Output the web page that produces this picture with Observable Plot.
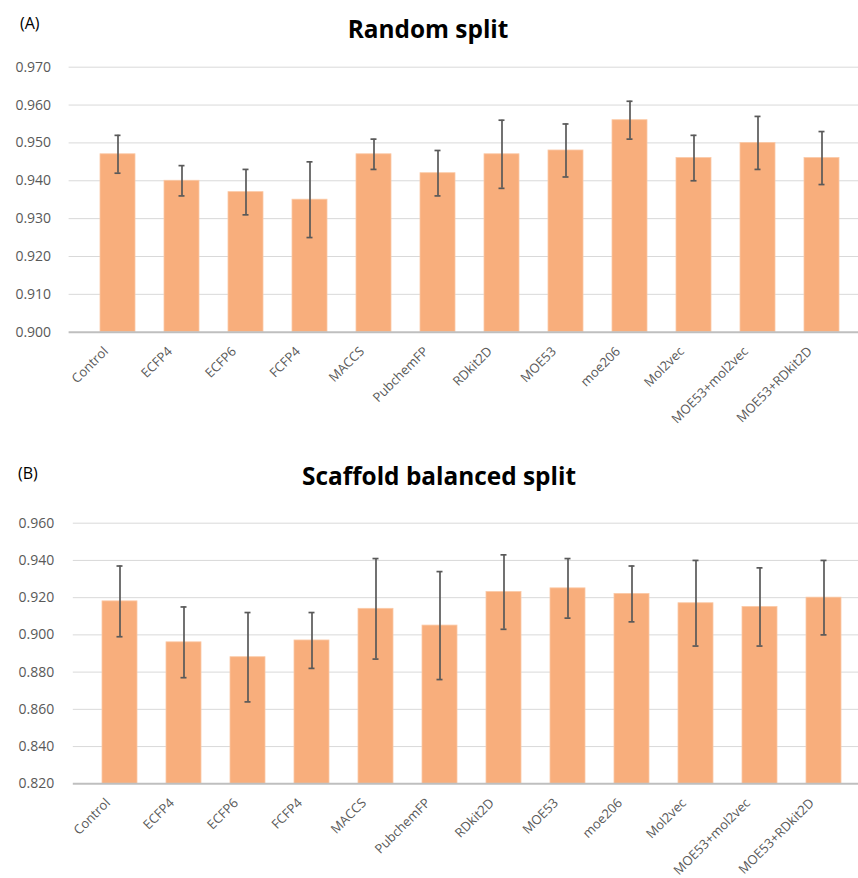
<!DOCTYPE html>
<html>
<head>
<meta charset="utf-8">
<script src="https://cdn.jsdelivr.net/npm/d3@7"></script>
<script src="https://cdn.jsdelivr.net/npm/@observablehq/plot@0.6"></script>
<style>
  html, body { margin: 0; padding: 0; background: #fff; }
  #root { position: relative; width: 858px; height: 878px; overflow: hidden; font-family: "Open Sans", sans-serif; }
  .panel { position: absolute; left: 0; }
  .tag { position: absolute; font-size: 16px; color: #000; line-height: 1; }
  .title { position: absolute; left: 0; width: 858px; text-align: center; font-weight: bold; font-size: 24.4px; color: #000; line-height: 1; }
  svg { overflow: hidden; }
</style>
</head>
<body>
<div id="root">
  <div class="tag" style="left:20px; top:15px;">(A)</div>
  <div class="title" style="top:17px; left:-1px;">Random split</div>
  <div class="panel" id="pa" style="top:0px;"></div>
  <div class="tag" style="left:18px; top:465px;">(B)</div>
  <div class="title" style="top:464px; left:10px;">Scaffold balanced split</div>
  <div class="panel" id="pb" style="top:440px;"></div>
</div>
<script>
const categories = ["Control","ECFP4","ECFP6","FCFP4","MACCS","PubchemFP","RDkit2D","MOE53","moe206","Mol2vec","MOE53+mol2vec","MOE53+RDkit2D"];

const randomMean = [0.947,0.940,0.937,0.935,0.947,0.942,0.947,0.948,0.956,0.946,0.950,0.946];
const randomErr  = [0.005,0.004,0.006,0.010,0.004,0.006,0.009,0.007,0.005,0.006,0.007,0.007];
const randomTicks = [0.900,0.910,0.920,0.930,0.940,0.950,0.960,0.970];

const scaffoldMean = [0.918,0.896,0.888,0.897,0.914,0.905,0.923,0.925,0.922,0.917,0.915,0.920];
const scaffoldErr  = [0.019,0.019,0.024,0.015,0.027,0.029,0.020,0.016,0.015,0.023,0.021,0.020];
const scaffoldTicks = [0.820,0.840,0.860,0.880,0.900,0.920,0.940,0.960];

const BAR = "#F8AE7C";
const ERR = "#595959";

function panel(means, errs, ticks, opts) {
  const data = categories.map((c, i) => ({cat: c, mean: means[i], lo: means[i] - errs[i], hi: means[i] + errs[i]}));
  const y0 = ticks[0], y1 = ticks[ticks.length - 1];
  return Plot.plot({
    width: 858,
    height: opts.height,
    marginTop: opts.marginTop,
    marginBottom: opts.marginBottom,
    marginLeft: opts.left,
    marginRight: 0,
    style: {fontFamily: "Open Sans, sans-serif", fontSize: "14px", color: "#595959", background: "transparent"},
    x: {domain: categories, range: [opts.left, opts.right], padding: 0.45, label: null},
    y: {domain: [y0, y1], label: null},
    marks: [
      Plot.gridY(ticks.slice(1), {stroke: "#D9D9D9", strokeOpacity: 1, strokeWidth: 1}),
      Plot.barY(data, {x: "cat", y1: () => y0, y2: "mean", fill: BAR, stroke: "#FBC9A6", strokeWidth: 0.8}),
      Plot.ruleY([y0], {stroke: "#BFBFBF", strokeWidth: 2}),
      Plot.ruleX(data, {x: "cat", y1: "lo", y2: "hi", stroke: ERR, strokeWidth: 1.7}),
      Plot.tickY(data, {x: "cat", y: "hi", stroke: ERR, strokeWidth: 1.7, insetLeft: 14.5, insetRight: 14.5}),
      Plot.tickY(data, {x: "cat", y: "lo", stroke: ERR, strokeWidth: 1.7, insetLeft: 14.5, insetRight: 14.5}),
      Plot.axisY(ticks, {tickSize: 0, tickPadding: opts.tickPad, tickFormat: d3.format(".3f"), label: null, fill: "#595959"}),
      Plot.axisX({tickSize: 0, tickRotate: -45, tickPadding: 10, label: null, dx: -12, dy: 7, fontSize: 13, fill: "#595959"})
    ]
  });
}

document.getElementById("pa").appendChild(panel(randomMean, randomErr, randomTicks, {
  height: 430, marginTop: 66.7, marginBottom: 430 - 331.7, left: 68.6, right: 870, tickPad: 18
}));
document.getElementById("pb").appendChild(panel(scaffoldMean, scaffoldErr, scaffoldTicks, {
  height: 438, marginTop: 522.7 - 440, marginBottom: 878 - 783.3, left: 72.8, right: 870.8, tickPad: 19
}));
</script>
</body>
</html>
